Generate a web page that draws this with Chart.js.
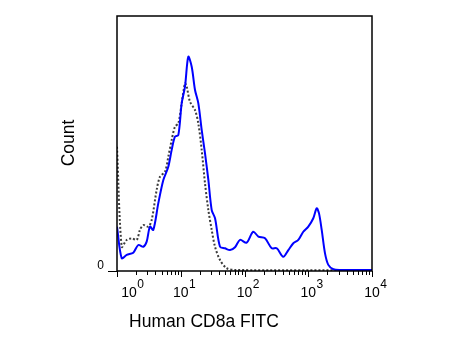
<!DOCTYPE html>
<html>
<head>
<meta charset="utf-8">
<script src="https://cdn.jsdelivr.net/npm/chart.js@4.4.0/dist/chart.umd.min.js"></script>
<style>
  html, body { margin: 0; padding: 0; background: #fff; }
</style>
</head>
<body>
<canvas id="histo" width="460" height="345"></canvas>
<script>
// CD8a FITC stained sample (blue line)
const stainX = [1.00, 1.185, 1.42, 1.80, 2.16, 2.59, 2.92, 3.29, 3.71, 4.44, 5.33, 6.38, 7.21, 8.12, 9.16,
  10.35, 11.66, 13.13, 14.85, 16.74, 18.85, 21.3, 24.0, 27.1, 30.6, 34.5, 41.3, 49.4, 59.3, 71.0, 85.0,
  108, 137, 165, 210, 267, 320, 406, 487, 583, 698, 836, 1002, 1200, 1358, 1475, 1626, 1832, 2065, 2473, 3148, 10000];
const stainY = [17.4, 5.0, 6.3, 7.2, 10.2, 9.5, 11.5, 17.4, 16.1, 26.5, 35.7, 40.9, 47.5, 52.7, 53.3,
  65.8, 72.3, 84.0, 80.1, 71.0, 65.8, 55.3, 46.2, 35.7, 23.9, 20.7, 9.5, 8.9, 8.2, 9.3, 12.2,
  11.1, 15.4, 13.5, 12.8, 8.9, 8.9, 5.6, 8.2, 10.9, 12.2, 15.4, 17.4, 20.7, 24.6, 22.6, 16.1, 6.9, 2.4, 0.7, 0.4, 0.4];

// isotype control (dotted line)
const isoX = [1.00, 1.185, 1.42, 1.70, 2.04, 2.29, 2.59, 3.10, 3.50, 4.19, 4.73, 5.66, 6.38, 7.21, 8.12, 9.16,
  10.35, 11.66, 12.4, 13.96, 16.74, 18.85, 21.3, 24.0, 27.1, 30.6, 34.5, 41.3, 52.3, 71.0, 10000];
const isoY = [48.7, 9.5, 12.2, 12.8, 12.2, 16.1, 18.0, 17.4, 20.0, 31.8, 37.0, 38.9, 44.8, 51.4, 56.6, 57.9,
  65.8, 73.6, 72.3, 66.4, 63.1, 57.9, 47.5, 34.4, 23.9, 16.1, 9.5, 4.3, 1.1, 0.4, 0.3];

const decades = [0, 1, 2, 3, 4];
const yTicks = [0];

const toPoints = (xs, ys) => xs.map((v, i) => ({ x: v, y: ys[i] }));

const font = 'Arial, "Liberation Sans", sans-serif';

const frame = {
  id: 'frame',
  afterDatasetsDraw(chart) {
    const { ctx, chartArea: a, scales: { x, y } } = chart;
    ctx.save();
    ctx.strokeStyle = '#000';
    ctx.fillStyle = '#000';

    // plot box
    ctx.lineWidth = 1.5;
    ctx.strokeRect(a.left, a.top, a.right - a.left, a.bottom - a.top);

    // x tick marks
    ctx.lineWidth = 1;
    ctx.beginPath();
    decades.forEach((e, i) => {
      const steps = i < decades.length - 1 ? 9 : 1;
      for (let m = 1; m <= steps; m++) {
        const px = Math.round(x.getPixelForValue(m * Math.pow(10, e))) + 0.5;
        const len = m === 1 ? 6 : 4;
        ctx.moveTo(px, a.bottom);
        ctx.lineTo(px, a.bottom + len);
      }
    });
    // y tick at zero
    yTicks.forEach(v => {
      const py = Math.round(y.getPixelForValue(v)) + 0.5;
      ctx.moveTo(a.left - 9, py);
      ctx.lineTo(a.left, py);
    });
    ctx.stroke();

    // x tick labels 10^n
    decades.forEach((e, i) => {
      let px = x.getPixelForValue(Math.pow(10, e));
      if (i === 0) px += 12;
      ctx.font = '14px ' + font;
      ctx.textAlign = 'center';
      ctx.textBaseline = 'alphabetic';
      ctx.fillText('10', px, 297);
      const w = ctx.measureText('10').width;
      ctx.font = '12px ' + font;
      ctx.textAlign = 'left';
      ctx.fillText(String(e), px + w / 2 + 0.5, 288);
    });

    // y tick label
    ctx.font = '12px ' + font;
    ctx.textAlign = 'right';
    ctx.textBaseline = 'middle';
    yTicks.forEach(v => ctx.fillText(String(v), 104, y.getPixelForValue(v) - 5));

    // axis titles
    ctx.font = '17.5px ' + font;
    ctx.textAlign = 'center';
    ctx.textBaseline = 'middle';
    ctx.fillText('Human CD8a FITC', 204, 322);
    ctx.save();
    ctx.translate(69, 143);
    ctx.rotate(-Math.PI / 2);
    ctx.fillText('Count', 0, 0);
    ctx.restore();

    ctx.restore();
  }
};

new Chart(document.getElementById('histo'), {
  type: 'line',
  data: {
    datasets: [
      {
        label: 'CD8a FITC',
        data: toPoints(stainX, stainY),
        borderColor: '#0000ff',
        borderWidth: 2,
        pointRadius: 0,
        fill: false,
        tension: 0.3
      },
      {
        label: 'Isotype',
        data: toPoints(isoX, isoY),
        borderColor: '#3c3c3c',
        borderWidth: 2,
        borderDash: [2, 2],
        pointRadius: 0,
        fill: false,
        tension: 0.3
      }
    ]
  },
  options: {
    responsive: false,
    animation: false,
    devicePixelRatio: 1,
    layout: { padding: { left: 117, top: 16, right: 88, bottom: 74 } },
    plugins: { legend: { display: false }, tooltip: { enabled: false } },
    scales: {
      x: { type: 'logarithmic', min: 1, max: 10000, display: false },
      y: { type: 'linear', min: 0, max: 100, display: false }
    }
  },
  plugins: [frame]
});
</script>
</body>
</html>
